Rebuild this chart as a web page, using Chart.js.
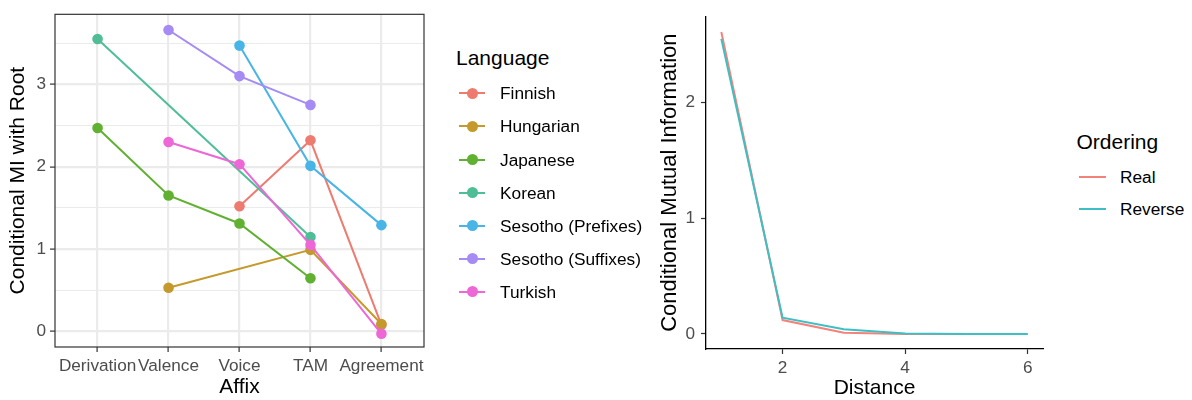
<!DOCTYPE html>
<html>
<head>
<meta charset="utf-8">
<script src="https://cdn.jsdelivr.net/npm/chart.js@4"></script>
<style>
  body { margin: 0; background: #fff; font-family: "Liberation Sans", Arial, sans-serif; }
  #wrap { position: relative; width: 1192px; height: 400px; overflow: hidden; }
  #left { position: absolute; left: 0; top: 0; }
  #right { position: absolute; left: 640px; top: 0; }
  .lg-title { position: absolute; font-size: 21px; color: #000; height: 24px; line-height: 24px; white-space: nowrap; }
  .lg-text { position: absolute; font-size: 17.3px; color: #000; height: 20px; line-height: 20px; white-space: nowrap; }
  .lg-line { position: absolute; height: 0; }
  .lg-dot { position: absolute; border-radius: 50%; }
</style>
</head>
<body>
<div id="wrap">
  <canvas id="left" width="430" height="400"></canvas>
  <canvas id="right" width="410" height="400"></canvas>
</div>
<script>
// left panel data
const affixes = ["Derivation", "Valence", "Voice", "TAM", "Agreement"]
const languages = ["Finnish", "Hungarian", "Japanese", "Korean", "Sesotho (Prefixes)", "Sesotho (Suffixes)", "Turkish"]
const finnish = [null, null, 1.52, 2.32, 0.08]
const hungarian = [null, 0.53, null, 0.99, 0.09]
const japanese = [2.47, 1.65, 1.31, 0.645, null]
const korean = [3.55, null, null, 1.145, null]
const sesothoPrefixes = [null, null, 3.47, 2.01, 1.29]
const sesothoSuffixes = [null, 3.66, 3.10, 2.75, null]
const turkish = [null, 2.30, 2.03, 1.05, -0.03]
const miTicks = [0, 1, 2, 3]

// right panel data
const distances = [1, 2, 3, 4, 5, 6]
const orderings = ["Real", "Reverse"]
const realCMI = [2.61, 0.12, 0.01, 0, 0, 0]
const reverseCMI = [2.55, 0.14, 0.04, 0.005, 0, 0]
const distanceTicks = [2, 4, 6]
const cmiTicks = [0, 1, 2]

const langColors = ["#EE7B70", "#C49A2C", "#60B031", "#4FBE97", "#48B5E6", "#A68BF5", "#EE67D6"]
const orderColors = ["#F3837A", "#3EBFC4"]
const seriesByLang = [finnish, hungarian, japanese, korean, sesothoPrefixes, sesothoSuffixes, turkish]

const tickFont = { family: "Liberation Sans", size: 17.2 }
const titleFont = { family: "Liberation Sans", size: 21, lineHeight: 1 }

Chart.defaults.animation = false
Chart.defaults.plugins.tooltip.enabled = false
Chart.defaults.plugins.legend.display = false

const panelBorder = {
  id: "panelBorder",
  afterDraw(chart) {
    const { ctx, chartArea: a } = chart
    ctx.save()
    ctx.strokeStyle = "#333333"
    ctx.lineWidth = 1.2
    ctx.strokeRect(a.left, a.top, a.right - a.left, a.bottom - a.top)
    ctx.restore()
  }
}

function toPoints(values, xs) {
  let pts = []
  values.forEach((v, i) => {
    if (v !== null) pts.push({ x: xs[i], y: v })
  })
  return pts
}

// left chart
new Chart(document.getElementById("left"), {
  type: "line",
  data: {
    datasets: languages.map((lang, i) => ({
      label: lang,
      data: toPoints(seriesByLang[i], affixes.map((a, j) => j)),
      borderColor: langColors[i],
      backgroundColor: langColors[i],
      borderWidth: 2,
      pointRadius: 5.3,
      pointBorderWidth: 0,
      order: languages.length - i
    }))
  },
  options: {
    responsive: false,
    layout: { padding: { top: 6, right: 6 } },
    scales: {
      x: {
        type: "linear",
        min: -0.6,
        max: 4.6,
        afterBuildTicks: scale => { scale.ticks = affixes.map((a, j) => ({ value: j })) },
        afterFit: scale => { scale.height = 53 },
        ticks: { autoSkip: false, maxRotation: 0, font: tickFont, color: "#4D4D4D", padding: 4,
          callback: v => affixes[v] },
        grid: { color: "#EBEBEB", lineWidth: 2.2, tickColor: "#333333", tickLength: 5, tickWidth: 1.2 },
        border: { display: false },
        title: { display: true, text: "Affix", font: titleFont, color: "#000", padding: { top: 0, bottom: 2 } }
      },
      y: {
        min: -0.19,
        max: 3.85,
        afterBuildTicks: scale => {
          let t = []
          miTicks.forEach(v => { t.push({ value: v }); t.push({ value: v + 0.5 }) })
          scale.ticks = t
        },
        afterFit: scale => { scale.width = 55 },
        ticks: { font: tickFont, color: "#4D4D4D", padding: 4,
          callback: v => Number.isInteger(v) ? v : "" },
        grid: {
          color: "#EBEBEB",
          lineWidth: c => Number.isInteger(c.tick.value) ? 2.2 : 1.1,
          tickColor: c => Number.isInteger(c.tick.value) ? "#333333" : "rgba(0,0,0,0)",
          tickLength: 5,
          tickWidth: 1.2
        },
        border: { display: false },
        title: { display: true, text: "Conditional MI with Root", font: titleFont, color: "#000", padding: { top: 7.5, bottom: 0 } }
      }
    }
  },
  plugins: [panelBorder]
})

// right chart
new Chart(document.getElementById("right"), {
  type: "line",
  data: {
    datasets: orderings.map((o, i) => ({
      label: o,
      data: toPoints(i == 0 ? realCMI : reverseCMI, distances),
      borderColor: orderColors[i],
      borderWidth: 2,
      pointRadius: 0,
      order: orderings.length - i
    }))
  },
  options: {
    responsive: false,
    layout: { padding: { top: 7, right: 7 } },
    scales: {
      x: {
        type: "linear",
        min: 0.75,
        max: 6.25,
        afterBuildTicks: scale => { scale.ticks = distanceTicks.map(v => ({ value: v })) },
        afterFit: scale => { scale.height = 51 },
        ticks: { font: tickFont, color: "#4D4D4D", padding: 4 },
        grid: { drawOnChartArea: false, tickColor: "#333333", tickLength: 5, tickWidth: 1.2 },
        border: { display: true, color: "#000", width: 1.3 },
        title: { display: true, text: "Distance", font: titleFont, color: "#000", padding: { top: 0, bottom: 1.5 } }
      },
      y: {
        min: -0.13,
        max: 2.745,
        afterBuildTicks: scale => { scale.ticks = cmiTicks.map(v => ({ value: v })) },
        afterFit: scale => { scale.width = 66 },
        ticks: { font: tickFont, color: "#4D4D4D", padding: 6 },
        grid: { drawOnChartArea: false, tickColor: "#333333", tickLength: 5, tickWidth: 1.2 },
        border: { display: true, color: "#000", width: 1.3 },
        title: { display: true, text: "Conditional Mutual Information", font: { family: "Liberation Sans", size: 22, lineHeight: 1 },
          color: "#000", padding: { top: 19, bottom: 0 } }
      }
    }
  },
  plugins: []
})

// legends
const wrap = document.getElementById("wrap")
function addEl(cls, css, text) {
  let el = document.createElement("div")
  el.className = cls
  Object.assign(el.style, css)
  if (text) el.textContent = text
  wrap.appendChild(el)
  return el
}

addEl("lg-title", { left: "456px", top: (58 - 12) + "px" }, "Language")
languages.forEach((lang, i) => {
  let cy = 93.3 + i * 33.1
  addEl("lg-line", { left: "459px", top: (cy - 1) + "px", width: "26px", borderTop: "2px solid " + langColors[i] })
  addEl("lg-dot", { left: (472 - 5.5) + "px", top: (cy - 5.5) + "px", width: "11px", height: "11px", background: langColors[i] })
  addEl("lg-text", { left: "500px", top: (cy - 10) + "px" }, lang)
})

addEl("lg-title", { left: "1076.5px", top: (141.7 - 12) + "px" }, "Ordering")
orderings.forEach((o, i) => {
  let cy = 177.3 + i * 32
  addEl("lg-line", { left: "1079px", top: (cy - 1) + "px", width: "27px", borderTop: "2px solid " + orderColors[i] })
  addEl("lg-text", { left: "1120px", top: (cy - 10) + "px" }, o)
})
</script>
</body>
</html>
